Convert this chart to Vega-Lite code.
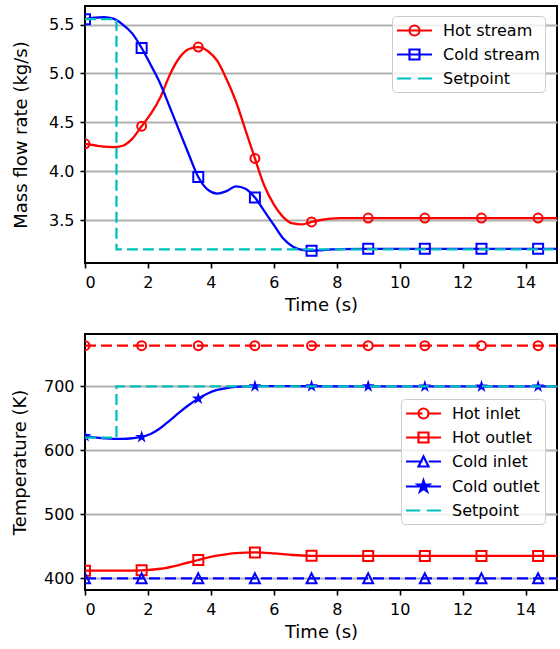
{
  "$schema": "https://vega.github.io/schema/vega-lite/v6.json",
  "background": "white",
  "padding": {"left": 10, "top": 5, "right": 2, "bottom": 5},
  "spacing": 18,
  "datasets": {
    "flow": [
      {"series": "Hot stream", "t": 0, "v": 4.28},
      {"series": "Hot stream", "t": 0.3, "v": 4.265},
      {"series": "Hot stream", "t": 0.6, "v": 4.25},
      {"series": "Hot stream", "t": 0.9, "v": 4.245},
      {"series": "Hot stream", "t": 1.2, "v": 4.26},
      {"series": "Hot stream", "t": 1.5, "v": 4.33},
      {"series": "Hot stream", "t": 1.8, "v": 4.46},
      {"series": "Hot stream", "t": 2.1, "v": 4.59},
      {"series": "Hot stream", "t": 2.4, "v": 4.76},
      {"series": "Hot stream", "t": 2.7, "v": 4.99},
      {"series": "Hot stream", "t": 3.0, "v": 5.16},
      {"series": "Hot stream", "t": 3.3, "v": 5.25},
      {"series": "Hot stream", "t": 3.6, "v": 5.27},
      {"series": "Hot stream", "t": 3.9, "v": 5.23},
      {"series": "Hot stream", "t": 4.2, "v": 5.13},
      {"series": "Hot stream", "t": 4.5, "v": 4.94},
      {"series": "Hot stream", "t": 4.8, "v": 4.71},
      {"series": "Hot stream", "t": 5.1, "v": 4.42},
      {"series": "Hot stream", "t": 5.4, "v": 4.13},
      {"series": "Hot stream", "t": 5.7, "v": 3.85},
      {"series": "Hot stream", "t": 6.0, "v": 3.66},
      {"series": "Hot stream", "t": 6.3, "v": 3.53},
      {"series": "Hot stream", "t": 6.6, "v": 3.465},
      {"series": "Hot stream", "t": 6.9, "v": 3.455},
      {"series": "Hot stream", "t": 7.2, "v": 3.48},
      {"series": "Hot stream", "t": 7.5, "v": 3.5},
      {"series": "Hot stream", "t": 7.8, "v": 3.515},
      {"series": "Hot stream", "t": 8.1, "v": 3.52},
      {"series": "Hot stream", "t": 9.0, "v": 3.52},
      {"series": "Hot stream", "t": 10.8, "v": 3.52},
      {"series": "Hot stream", "t": 12.6, "v": 3.52},
      {"series": "Hot stream", "t": 14.4, "v": 3.52},
      {"series": "Hot stream", "t": 15, "v": 3.52},
      {"series": "Cold stream", "t": 0, "v": 5.555},
      {"series": "Cold stream", "t": 0.3, "v": 5.572},
      {"series": "Cold stream", "t": 0.6, "v": 5.575},
      {"series": "Cold stream", "t": 0.9, "v": 5.56},
      {"series": "Cold stream", "t": 1.2, "v": 5.5},
      {"series": "Cold stream", "t": 1.5, "v": 5.41},
      {"series": "Cold stream", "t": 1.8, "v": 5.26},
      {"series": "Cold stream", "t": 2.1, "v": 5.08},
      {"series": "Cold stream", "t": 2.4, "v": 4.89},
      {"series": "Cold stream", "t": 2.7, "v": 4.65},
      {"series": "Cold stream", "t": 3.0, "v": 4.41},
      {"series": "Cold stream", "t": 3.3, "v": 4.17},
      {"series": "Cold stream", "t": 3.6, "v": 3.94},
      {"series": "Cold stream", "t": 3.9, "v": 3.81},
      {"series": "Cold stream", "t": 4.2, "v": 3.77},
      {"series": "Cold stream", "t": 4.5, "v": 3.795},
      {"series": "Cold stream", "t": 4.8, "v": 3.845},
      {"series": "Cold stream", "t": 5.1, "v": 3.82},
      {"series": "Cold stream", "t": 5.4, "v": 3.73},
      {"series": "Cold stream", "t": 5.7, "v": 3.59},
      {"series": "Cold stream", "t": 6.0, "v": 3.45},
      {"series": "Cold stream", "t": 6.3, "v": 3.31},
      {"series": "Cold stream", "t": 6.6, "v": 3.23},
      {"series": "Cold stream", "t": 6.9, "v": 3.195},
      {"series": "Cold stream", "t": 7.2, "v": 3.185},
      {"series": "Cold stream", "t": 7.5, "v": 3.19},
      {"series": "Cold stream", "t": 7.8, "v": 3.198},
      {"series": "Cold stream", "t": 8.1, "v": 3.203},
      {"series": "Cold stream", "t": 9.0, "v": 3.205},
      {"series": "Cold stream", "t": 10.8, "v": 3.205},
      {"series": "Cold stream", "t": 12.6, "v": 3.205},
      {"series": "Cold stream", "t": 14.4, "v": 3.205},
      {"series": "Cold stream", "t": 15, "v": 3.205},
      {"series": "Setpoint", "t": 0, "v": 5.555},
      {"series": "Setpoint", "t": 1, "v": 3.2},
      {"series": "Setpoint", "t": 15, "v": 3.2}
    ],
    "temp": [
      {"series": "Hot inlet", "t": 0, "v": 763.7},
      {"series": "Hot inlet", "t": 1.8, "v": 763.7},
      {"series": "Hot inlet", "t": 3.6, "v": 763.7},
      {"series": "Hot inlet", "t": 5.4, "v": 763.7},
      {"series": "Hot inlet", "t": 7.2, "v": 763.7},
      {"series": "Hot inlet", "t": 9.0, "v": 763.7},
      {"series": "Hot inlet", "t": 10.8, "v": 763.7},
      {"series": "Hot inlet", "t": 12.6, "v": 763.7},
      {"series": "Hot inlet", "t": 14.4, "v": 763.7},
      {"series": "Hot inlet", "t": 15, "v": 763.7},
      {"series": "Hot outlet", "t": 0, "v": 412},
      {"series": "Hot outlet", "t": 0.6, "v": 412},
      {"series": "Hot outlet", "t": 1.2, "v": 412},
      {"series": "Hot outlet", "t": 1.8, "v": 412.5},
      {"series": "Hot outlet", "t": 2.4, "v": 415},
      {"series": "Hot outlet", "t": 3.0, "v": 421},
      {"series": "Hot outlet", "t": 3.6, "v": 428.7},
      {"series": "Hot outlet", "t": 4.2, "v": 435.5},
      {"series": "Hot outlet", "t": 4.8, "v": 439.5},
      {"series": "Hot outlet", "t": 5.4, "v": 440.5},
      {"series": "Hot outlet", "t": 6.0, "v": 439},
      {"series": "Hot outlet", "t": 6.6, "v": 436.5},
      {"series": "Hot outlet", "t": 7.2, "v": 435.3},
      {"series": "Hot outlet", "t": 7.8, "v": 435},
      {"series": "Hot outlet", "t": 9.0, "v": 435},
      {"series": "Hot outlet", "t": 10.8, "v": 435},
      {"series": "Hot outlet", "t": 12.6, "v": 435},
      {"series": "Hot outlet", "t": 14.4, "v": 435},
      {"series": "Hot outlet", "t": 15, "v": 435},
      {"series": "Cold inlet", "t": 0, "v": 400},
      {"series": "Cold inlet", "t": 1.8, "v": 400},
      {"series": "Cold inlet", "t": 3.6, "v": 400},
      {"series": "Cold inlet", "t": 5.4, "v": 400},
      {"series": "Cold inlet", "t": 7.2, "v": 400},
      {"series": "Cold inlet", "t": 9.0, "v": 400},
      {"series": "Cold inlet", "t": 10.8, "v": 400},
      {"series": "Cold inlet", "t": 12.6, "v": 400},
      {"series": "Cold inlet", "t": 14.4, "v": 400},
      {"series": "Cold inlet", "t": 15, "v": 400},
      {"series": "Cold outlet", "t": 0, "v": 622.5},
      {"series": "Cold outlet", "t": 0.3, "v": 620.5},
      {"series": "Cold outlet", "t": 0.6, "v": 619},
      {"series": "Cold outlet", "t": 0.9, "v": 618},
      {"series": "Cold outlet", "t": 1.2, "v": 618},
      {"series": "Cold outlet", "t": 1.5, "v": 619},
      {"series": "Cold outlet", "t": 1.8, "v": 621},
      {"series": "Cold outlet", "t": 2.1, "v": 626},
      {"series": "Cold outlet", "t": 2.4, "v": 635},
      {"series": "Cold outlet", "t": 2.7, "v": 647},
      {"series": "Cold outlet", "t": 3.0, "v": 659.5},
      {"series": "Cold outlet", "t": 3.3, "v": 671},
      {"series": "Cold outlet", "t": 3.6, "v": 681},
      {"series": "Cold outlet", "t": 3.9, "v": 689},
      {"series": "Cold outlet", "t": 4.2, "v": 694.5},
      {"series": "Cold outlet", "t": 4.5, "v": 697.5},
      {"series": "Cold outlet", "t": 4.8, "v": 699.2},
      {"series": "Cold outlet", "t": 5.1, "v": 700},
      {"series": "Cold outlet", "t": 5.4, "v": 700.3},
      {"series": "Cold outlet", "t": 6.0, "v": 700.5},
      {"series": "Cold outlet", "t": 7.2, "v": 700.3},
      {"series": "Cold outlet", "t": 9.0, "v": 700.2},
      {"series": "Cold outlet", "t": 10.8, "v": 700},
      {"series": "Cold outlet", "t": 12.6, "v": 700},
      {"series": "Cold outlet", "t": 14.4, "v": 700},
      {"series": "Cold outlet", "t": 15, "v": 700},
      {"series": "Setpoint", "t": 0, "v": 620},
      {"series": "Setpoint", "t": 1, "v": 700},
      {"series": "Setpoint", "t": 15, "v": 700}
    ]
  },
  "resolve": {"scale": {"color": "independent"}, "legend": {"color": "independent"}},
  "vconcat": [
    {
      "width": 472,
      "height": 257,
      "data": {"name": "flow"},
      "encoding": {
        "x": {"field": "t", "type": "quantitative", "scale": {"domain": [0, 15], "nice": false, "zero": false}, "axis": {"values": [0, 2, 4, 6, 8, 10, 12, 14], "title": "Time (s)"}},
        "y": {"field": "v", "type": "quantitative", "scale": {"domain": [3.06, 5.69], "nice": false, "zero": false}, "axis": {"values": [3.5, 4, 4.5, 5, 5.5], "format": ".1f", "title": "Mass flow rate (kg/s)", "titlePadding": 18}},
        "color": {
          "field": "series", "type": "nominal",
          "scale": {"domain": ["Hot stream", "Cold stream", "Setpoint"], "range": ["#ff0000", "#0000ff", "#00bfbf"]},
          "legend": {
            "title": null, "orient": "none", "legendX": 307, "legendY": 10,
            "symbolSize": 256, "rowPadding": 5, "padding": 5,
            "cornerRadius": 4, "fillColor": "rgba(255,255,255,0.8)", "strokeColor": "#cccccc",
            "encode": {
              "symbols": {"update": {
                "x": {"value": 17.5},
                "shape": {"signal": "datum.value === 'Hot stream' ? 'M-2.1875,0H2.1875M0.625,0A0.625,0.625 0 1,1 -0.625,0A0.625,0.625 0 1,1 0.625,0Z' : datum.value === 'Cold stream' ? 'M-2.1875,0H2.1875M-0.625,-0.625H0.625V0.625H-0.625Z' : 'M-2.1875,0H-0.416M0.416,0H2.1875'"},
                "stroke": {"signal": "datum.value === 'Setpoint' ? '#00bfbf' : (indexof(datum.value, 'Hot') === 0 ? '#ff0000' : '#0000ff')"},
                "fill": {"value": "transparent"},
                "strokeWidth": {"value": 2.2},
                "opacity": {"value": 1}
              }},
              "labels": {"update": {"x": {"value": 46}}}
            }
          }
        }
      },
      "layer": [
        {"transform": [{"filter": "datum.series === 'Hot stream'"}], "mark": {"type": "line", "interpolate": "monotone", "strokeWidth": 2.3, "clip": true}},
        {"transform": [{"filter": "datum.series === 'Hot stream'"}, {"filter": {"field": "t", "oneOf": [0, 1.8, 3.6, 5.4, 7.2, 9, 10.8, 12.6, 14.4]}}], "mark": {"type": "point", "shape": "circle", "size": 80, "strokeWidth": 2, "filled": false, "opacity": 1, "clip": true}},
        {"transform": [{"filter": "datum.series === 'Cold stream'"}], "mark": {"type": "line", "interpolate": "monotone", "strokeWidth": 2.3, "clip": true}},
        {"transform": [{"filter": "datum.series === 'Cold stream'"}, {"filter": {"field": "t", "oneOf": [0, 1.8, 3.6, 5.4, 7.2, 9, 10.8, 12.6, 14.4]}}], "mark": {"type": "point", "shape": "square", "size": 100, "strokeWidth": 2, "filled": false, "opacity": 1, "clip": true}},
        {"transform": [{"filter": "datum.series === 'Setpoint'"}], "mark": {"type": "line", "interpolate": "step-after", "strokeWidth": 2.3, "strokeDash": [11, 5], "clip": true}}
      ]
    },
    {
      "width": 472,
      "height": 256,
      "data": {"name": "temp"},
      "encoding": {
        "x": {"field": "t", "type": "quantitative", "scale": {"domain": [0, 15], "nice": false, "zero": false}, "axis": {"values": [0, 2, 4, 6, 8, 10, 12, 14], "title": "Time (s)"}},
        "y": {"field": "v", "type": "quantitative", "scale": {"domain": [381.8, 782], "nice": false, "zero": false}, "axis": {"values": [400, 500, 600, 700], "title": "Temperature (K)", "titlePadding": 14}},
        "color": {
          "field": "series", "type": "nominal",
          "scale": {"domain": ["Hot inlet", "Hot outlet", "Cold inlet", "Cold outlet", "Setpoint"], "range": ["#ff0000", "#ff0000", "#0000ff", "#0000ff", "#00bfbf"]},
          "legend": {
            "title": null, "orient": "none", "legendX": 316, "legendY": 65,
            "symbolSize": 256, "rowPadding": 5, "padding": 5,
            "cornerRadius": 4, "fillColor": "rgba(255,255,255,0.8)", "strokeColor": "#cccccc",
            "encode": {
              "symbols": {"update": {
                "x": {"value": 17.5},
                "shape": {"signal": "datum.value === 'Hot inlet' ? 'M-2.1875,0H-0.109M0.656,0H2.1875M0.625,0A0.625,0.625 0 1,1 -0.625,0A0.625,0.625 0 1,1 0.625,0Z' : datum.value === 'Hot outlet' ? 'M-2.1875,0H2.1875M-0.625,-0.625H0.625V0.625H-0.625Z' : datum.value === 'Cold inlet' ? 'M-2.1875,0H-0.109M0.656,0H2.1875M0,-0.625L0.625,0.625L-0.625,0.625Z' : datum.value === 'Cold outlet' ? 'M-2.1875,0H2.1875M0,-0.75L0.168,-0.232L0.713,-0.232L0.272,0.0885L0.441,0.607L0,0.2865L-0.441,0.607L-0.272,0.0885L-0.713,-0.232L-0.168,-0.232ZM0,-0.3L0.067,-0.093L0.285,-0.093L0.109,0.035L0.176,0.243L0,0.115L-0.176,0.243L-0.109,0.035L-0.285,-0.093L-0.067,-0.093Z' : 'M-2.1875,0H-0.416M0.416,0H2.1875'"},
                "stroke": {"signal": "datum.value === 'Setpoint' ? '#00bfbf' : (indexof(datum.value, 'Hot') === 0 ? '#ff0000' : '#0000ff')"},
                "fill": {"value": "transparent"},
                "strokeWidth": {"value": 2.2},
                "opacity": {"value": 1}
              }},
              "labels": {"update": {"x": {"value": 46}}}
            }
          }
        }
      },
      "layer": [
        {"transform": [{"filter": "datum.series === 'Hot inlet'"}], "mark": {"type": "line", "strokeWidth": 2.3, "strokeDash": [11, 5], "clip": true}},
        {"transform": [{"filter": "datum.series === 'Hot inlet'"}, {"filter": {"field": "t", "oneOf": [0, 1.8, 3.6, 5.4, 7.2, 9, 10.8, 12.6, 14.4]}}], "mark": {"type": "point", "shape": "circle", "size": 80, "strokeWidth": 2, "filled": false, "opacity": 1, "clip": true}},
        {"transform": [{"filter": "datum.series === 'Hot outlet'"}], "mark": {"type": "line", "interpolate": "monotone", "strokeWidth": 2.3, "clip": true}},
        {"transform": [{"filter": "datum.series === 'Hot outlet'"}, {"filter": {"field": "t", "oneOf": [0, 1.8, 3.6, 5.4, 7.2, 9, 10.8, 12.6, 14.4]}}], "mark": {"type": "point", "shape": "square", "size": 100, "strokeWidth": 2, "filled": false, "opacity": 1, "clip": true}},
        {"transform": [{"filter": "datum.series === 'Cold inlet'"}], "mark": {"type": "line", "strokeWidth": 2.3, "strokeDash": [11, 5], "clip": true}},
        {"transform": [{"filter": "datum.series === 'Cold inlet'"}, {"filter": {"field": "t", "oneOf": [0, 1.8, 3.6, 5.4, 7.2, 9, 10.8, 12.6, 14.4]}}], "mark": {"type": "point", "shape": "M0,-1L1,1L-1,1Z", "size": 100, "strokeWidth": 2, "filled": false, "opacity": 1, "clip": true}},
        {"transform": [{"filter": "datum.series === 'Cold outlet'"}], "mark": {"type": "line", "interpolate": "monotone", "strokeWidth": 2.3, "clip": true}},
        {"transform": [{"filter": "datum.series === 'Cold outlet'"}, {"filter": {"field": "t", "oneOf": [0, 1.8, 3.6, 5.4, 7.2, 9, 10.8, 12.6, 14.4]}}], "mark": {"type": "point", "shape": "M0,-1L0.2245,-0.309L0.951,-0.309L0.363,0.118L0.588,0.809L0,0.382L-0.588,0.809L-0.363,0.118L-0.951,-0.309L-0.2245,-0.309Z", "size": 180, "filled": true, "opacity": 1, "clip": true}, "encoding": {"color": {"value": "#0000ff"}}},
        {"transform": [{"filter": "datum.series === 'Setpoint'"}], "mark": {"type": "line", "interpolate": "step-after", "strokeWidth": 2.3, "strokeDash": [11, 5], "clip": true}}
      ]
    }
  ],
  "config": {
    "font": "DejaVu Sans",
    "view": {"stroke": "black", "strokeWidth": 2},
    "axis": {
      "labelFont": "DejaVu Sans", "labelFontSize": 16, "labelColor": "black", "labelPadding": 6,
      "titleFont": "DejaVu Sans", "titleFontSize": 18, "titleFontWeight": "normal", "titleColor": "black",
      "tickColor": "black", "tickWidth": 1.6, "tickSize": 5, "domain": false
    },
    "axisX": {"grid": false, "titlePadding": 6},
    "axisY": {"grid": true, "gridColor": "#b0b0b0", "gridWidth": 1.8, "gridOpacity": 1},
    "legend": {"labelFont": "DejaVu Sans", "labelFontSize": 16, "labelColor": "black", "strokeWidth": 1}
  }
}
